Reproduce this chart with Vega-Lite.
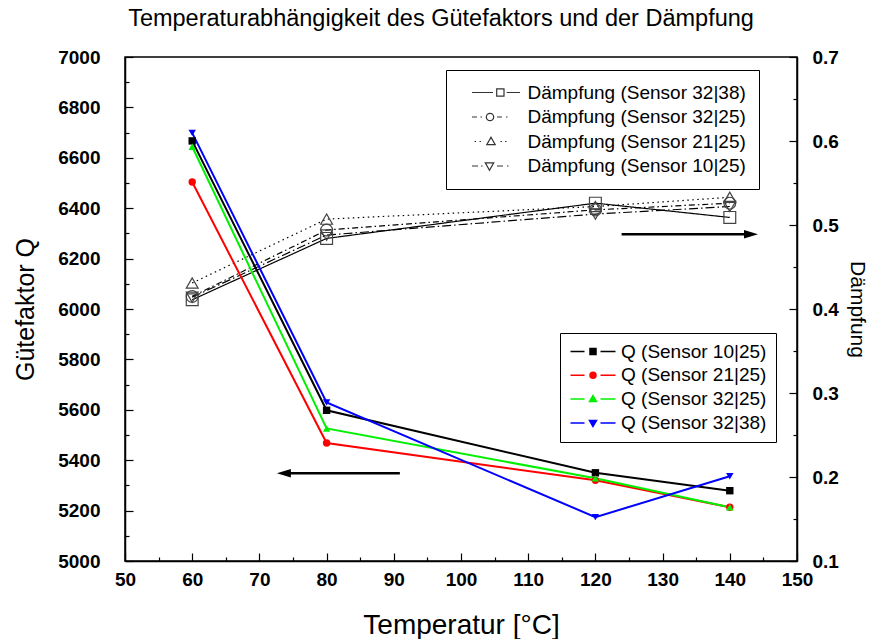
{
  "$schema": "https://vega.github.io/schema/vega-lite/v6.json",
  "width": 672,
  "height": 504,
  "autosize": {"type": "none"},
  "padding": {"left": 125, "top": 57, "right": 77, "bottom": 78},
  "background": "white",
  "title": {"text": "Temperaturabhängigkeit des Gütefaktors und der Dämpfung", "font": "Liberation Sans", "fontSize": 23.5, "fontWeight": "normal", "color": "black", "anchor": "middle", "offset": 18, "dx": -20},
  "config": {
    "font": "Liberation Sans",
    "view": {"stroke": "black", "strokeWidth": 1.5},
    "axis": {"grid": false, "domainColor": "black", "domainWidth": 1.5, "tickColor": "black", "tickWidth": 1.2, "labelFont": "Liberation Sans", "labelFontSize": 19, "labelFontWeight": "bold", "labelColor": "black", "labelOverlap": false, "labelFlush": false, "titleFont": "Liberation Sans", "titleFontWeight": "normal", "titleColor": "black"},
    "legend": {"labelFont": "Liberation Sans", "labelFontSize": 19, "labelColor": "black", "labelLimit": 0, "strokeColor": "black", "fillColor": "white", "padding": 9, "rowPadding": 5, "symbolSize": 4}
  },
  "datasets": {
    "q": [
      {"T": 60, "Q": 6667, "series": "10|25"}, {"T": 80, "Q": 5598, "series": "10|25"}, {"T": 120, "Q": 5350, "series": "10|25"}, {"T": 140, "Q": 5279, "series": "10|25"},
      {"T": 60, "Q": 6504, "series": "21|25"}, {"T": 80, "Q": 5468, "series": "21|25"}, {"T": 120, "Q": 5320, "series": "21|25"}, {"T": 140, "Q": 5213, "series": "21|25"},
      {"T": 60, "Q": 6644, "series": "32|25"}, {"T": 80, "Q": 5526, "series": "32|25"}, {"T": 120, "Q": 5328, "series": "32|25"}, {"T": 140, "Q": 5213, "series": "32|25"},
      {"T": 60, "Q": 6699, "series": "32|38"}, {"T": 80, "Q": 5629, "series": "32|38"}, {"T": 120, "Q": 5174, "series": "32|38"}, {"T": 140, "Q": 5336, "series": "32|38"}
    ],
    "d": [
      {"T": 60, "D": 0.411, "series": "32|38"}, {"T": 80, "D": 0.484, "series": "32|38"}, {"T": 120, "D": 0.526, "series": "32|38"}, {"T": 140, "D": 0.509, "series": "32|38"},
      {"T": 60, "D": 0.415, "series": "32|25"}, {"T": 80, "D": 0.494, "series": "32|25"}, {"T": 120, "D": 0.518, "series": "32|25"}, {"T": 140, "D": 0.526, "series": "32|25"},
      {"T": 60, "D": 0.431, "series": "21|25"}, {"T": 80, "D": 0.507, "series": "21|25"}, {"T": 120, "D": 0.522, "series": "21|25"}, {"T": 140, "D": 0.533, "series": "21|25"},
      {"T": 60, "D": 0.414, "series": "10|25"}, {"T": 80, "D": 0.488, "series": "10|25"}, {"T": 120, "D": 0.513, "series": "10|25"}, {"T": 140, "D": 0.522, "series": "10|25"}
    ],
    "qa": [{"T": 72.6, "Ts": 74.1, "Te": 90.9, "Q": 5348}],
    "da": [{"T": 144.2, "Ts": 123.9, "Te": 142.7, "D": 0.489}]
  },
  "layer": [
    {
      "data": {"name": "d"},
      "encoding": {
        "x": {"field": "T", "type": "quantitative", "scale": {"domain": [50, 150], "nice": false, "zero": false},
          "axis": {"title": "Temperatur [°C]", "titleFontSize": 28, "titlePadding": 18, "values": [50,55,60,65,70,75,80,85,90,95,100,105,110,115,120,125,130,135,140,145,150], "format": "d", "labelExpr": "datum.value % 10 === 0 ? datum.label : ''", "tickSize": {"condition": {"test": "datum.value % 10 === 0", "value": -8}, "value": -4}, "labelPadding": 17}},
        "y": {"field": "D", "type": "quantitative", "scale": {"domain": [0.1, 0.7], "nice": false, "zero": false},
          "axis": {"orient": "right", "title": "Dämpfung", "titleFontSize": 21, "titlePadding": 8, "values": [0.1,0.15,0.2,0.25,0.3,0.35,0.4,0.45,0.5,0.55,0.6,0.65,0.7], "format": ".1f", "labelExpr": "round(datum.value*100) % 10 === 0 ? datum.label : ''", "tickSize": {"condition": {"test": "round(datum.value*100) % 10 === 0", "value": -8}, "value": -4}, "labelPadding": 23}}
      },
      "layer": [
        {"mark": {"type": "line", "color": "black", "strokeWidth": 1.2},
          "encoding": {"strokeDash": {"field": "series", "type": "nominal", "scale": {"domain": ["32|38", "32|25", "21|25", "10|25"], "range": [[1, 0], [6, 3, 1.5, 3], [1.5, 3.5], [9, 3, 1.5, 3]]}, "legend": null}}},
        {"mark": {"type": "point", "filled": false, "color": "#444", "strokeWidth": 1.2, "size": 140, "opacity": 1},
          "encoding": {"shape": {"field": "series", "type": "nominal", "scale": {"domain": ["32|38", "32|25", "21|25", "10|25"], "range": ["square", "circle", "triangle-up", "triangle-down"]}, "legend": null}}},
        {"transform": [{"filter": "false"}],
          "mark": {"type": "point", "filled": false, "color": "#333", "strokeWidth": 1.2, "size": 4, "opacity": 1},
          "encoding": {"shape": {"field": "series", "type": "nominal",
            "scale": {"domain": ["32|38", "32|25", "21|25", "10|25"], "range": [
              "M0,0H21M24.7,-3.7H32V3.7H24.7ZM34.7,0H48",
              "M0,0H5M8.5,0H10M21.7,0A3.7,3.7,0,1,1,14.3,0A3.7,3.7,0,1,1,21.7,0ZM25,0H30M34,0H35.5",
              "M2.5,0H4M7.5,0H9M19,-4.2L23.2,3.2H14.8ZM28.5,0H30M33,0H34.5",
              "M0,0H6M9,0H10.5M17.5,4.2L21.7,-3.2H13.3ZM25,0H31M35,0H36.5"]},
            "legend": {"orient": "none", "legendX": 321, "legendY": 13, "title": null, "padding": 13, "labelOffset": 46, "symbolOffset": 3.5, "rowPadding": 4.5, "labelFontSize": 19, "labelLimit": 0, "symbolSize": 4, "symbolStrokeWidth": 1.2, "symbolStrokeColor": "#333", "symbolFillColor": "transparent",
              "labelExpr": "'Dämpfung (Sensor ' + datum.label + ')'"}}}},
        {"data": {"name": "da"}, "mark": {"type": "rule", "color": "black", "strokeWidth": 2.5},
          "encoding": {"x": {"field": "Ts", "type": "quantitative"}, "x2": {"field": "Te"}}},
        {"data": {"name": "da"}, "mark": {"type": "point", "shape": "M0,0L-2,-0.6L-2,0.6Z", "size": 196, "filled": true, "color": "black", "opacity": 1},
          "encoding": {}}
      ],
      "resolve": {"scale": {"shape": "independent"}}
    },
    {
      "data": {"name": "q"},
      "encoding": {
        "x": {"field": "T", "type": "quantitative", "scale": {"domain": [50, 150], "nice": false, "zero": false},
          "axis": {"title": "Temperatur [°C]", "titleFontSize": 28, "titlePadding": 18, "values": [50,55,60,65,70,75,80,85,90,95,100,105,110,115,120,125,130,135,140,145,150], "format": "d", "labelExpr": "datum.value % 10 === 0 ? datum.label : ''", "tickSize": {"condition": {"test": "datum.value % 10 === 0", "value": -8}, "value": -4}, "labelPadding": 17}},
        "y": {"field": "Q", "type": "quantitative", "scale": {"domain": [5000, 7000], "nice": false, "zero": false},
          "axis": {"orient": "left", "title": "Gütefaktor Q", "titleFontSize": 25, "titlePadding": 19, "values": [5000,5100,5200,5300,5400,5500,5600,5700,5800,5900,6000,6100,6200,6300,6400,6500,6600,6700,6800,6900,7000], "format": "d", "labelExpr": "datum.value % 200 === 0 ? datum.label : ''", "tickSize": {"condition": {"test": "datum.value % 200 === 0", "value": -8}, "value": -4}, "labelPadding": 33}}
      },
      "layer": [
        {"mark": {"type": "line", "strokeWidth": 2},
          "encoding": {"color": {"field": "series", "type": "nominal", "scale": {"domain": ["10|25", "21|25", "32|25", "32|38"], "range": ["#000000", "#ff0000", "#00f000", "#0000ff"]}, "legend": null}}},
        {"mark": {"type": "point", "filled": true, "size": 55, "opacity": 1},
          "encoding": {
            "color": {"field": "series", "type": "nominal", "scale": {"domain": ["10|25", "21|25", "32|25", "32|38"], "range": ["#000000", "#ff0000", "#00f000", "#0000ff"]}, "legend": null},
            "shape": {"field": "series", "type": "nominal", "scale": {"domain": ["10|25", "21|25", "32|25", "32|38"], "range": ["square", "circle", "triangle-up", "triangle-down"]}, "legend": null}}},
        {"transform": [{"filter": "false"}],
          "mark": {"type": "point", "filled": true, "strokeWidth": 1.5, "size": 4, "opacity": 1},
          "encoding": {
            "fill": {"field": "series", "type": "nominal", "scale": {"domain": ["10|25", "21|25", "32|25", "32|38"], "range": ["#000000", "#ff0000", "#00f000", "#0000ff"]},
              "legend": {"orient": "none", "legendX": 435, "legendY": 276, "title": null, "padding": 9, "labelOffset": 41, "symbolOffset": -8, "rowPadding": 3.8, "labelFontSize": 19, "labelLimit": 0, "symbolSize": 4, "symbolStrokeWidth": 1.5, "labelExpr": "'Q (Sensor ' + datum.label + ')'"}},
            "stroke": {"field": "series", "type": "nominal", "scale": {"domain": ["10|25", "21|25", "32|25", "32|38"], "range": ["#000000", "#ff0000", "#00f000", "#0000ff"]},
              "legend": {"orient": "none", "legendX": 435, "legendY": 276, "title": null, "padding": 9, "labelOffset": 41, "symbolOffset": -8, "rowPadding": 3.8, "labelFontSize": 19, "labelLimit": 0, "symbolSize": 4, "symbolStrokeWidth": 1.5, "labelExpr": "'Q (Sensor ' + datum.label + ')'"}},
            "shape": {"field": "series", "type": "nominal", "scale": {"domain": ["10|25", "21|25", "32|25", "32|38"], "range": [
              "M0,0H14M19.5,-3H25.5V3H19.5ZM30,0H45",
              "M0,0H14M25.5,0A3,3,0,1,1,19.5,0A3,3,0,1,1,25.5,0ZM30,0H45",
              "M0,0H14M22.5,-3.5L26,2.5H19ZM30,0H45",
              "M0,0H14M22.5,3.5L26,-2.5H19ZM30,0H45"]},
              "legend": {"orient": "none", "legendX": 435, "legendY": 276, "title": null, "padding": 9, "labelOffset": 41, "symbolOffset": -8, "rowPadding": 3.8, "labelFontSize": 19, "labelLimit": 0, "symbolSize": 4, "symbolStrokeWidth": 1.5, "labelExpr": "'Q (Sensor ' + datum.label + ')'"}}}},
        {"data": {"name": "qa"}, "mark": {"type": "rule", "color": "black", "strokeWidth": 2.5},
          "encoding": {"x": {"field": "Ts", "type": "quantitative"}, "x2": {"field": "Te"}}},
        {"data": {"name": "qa"}, "mark": {"type": "point", "shape": "M0,0L2,-0.6L2,0.6Z", "size": 196, "filled": true, "color": "black", "opacity": 1},
          "encoding": {}}
      ],
      "resolve": {"scale": {"shape": "independent", "fill": "independent", "stroke": "independent"}}
    }
  ],
  "resolve": {"scale": {"y": "independent", "shape": "independent"}}
}
